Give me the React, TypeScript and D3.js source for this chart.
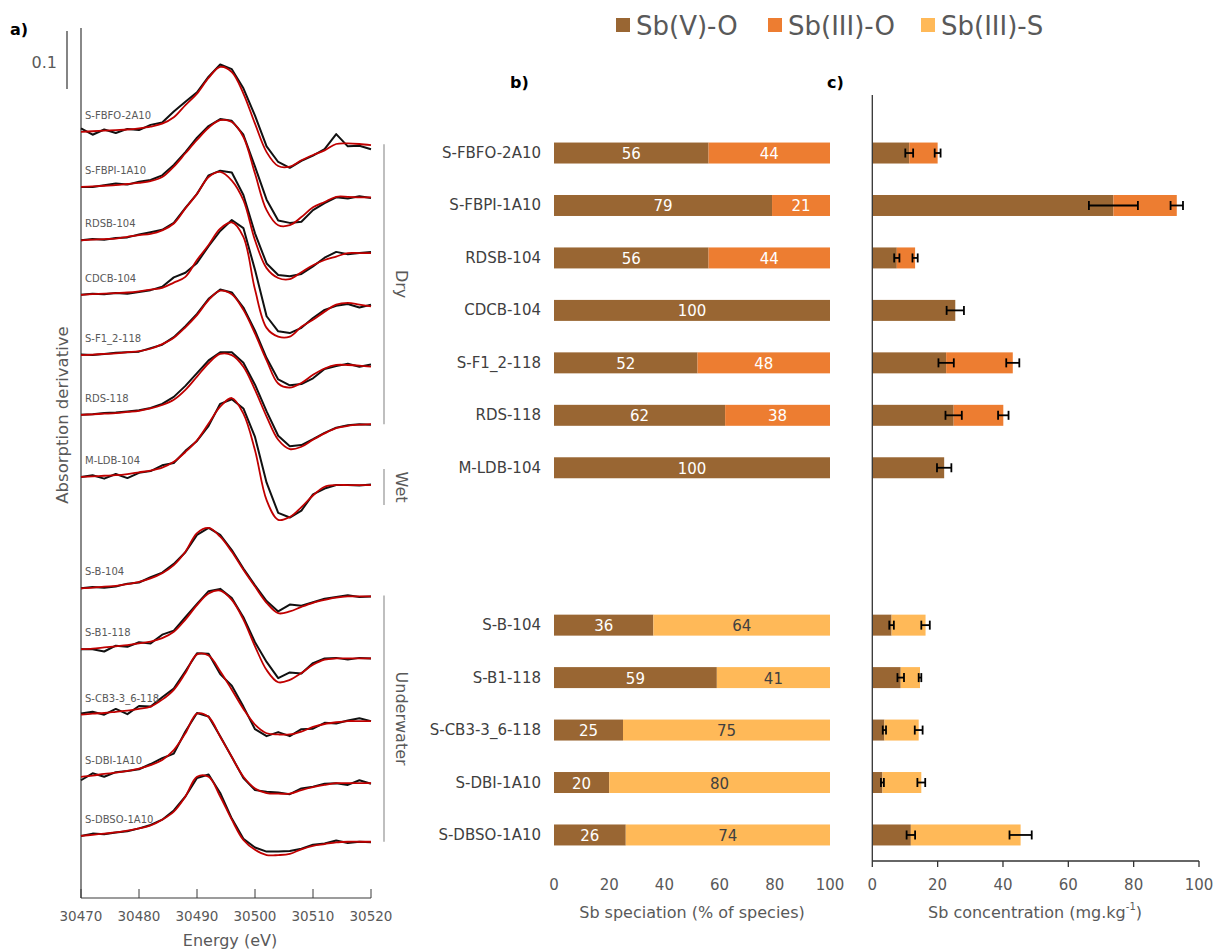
import React from "react";
import * as d3 from "d3";

// ---------- Panel a: XANES derivative spectra ----------
const energyGrid = [30470, 30472, 30474, 30476, 30478, 30480, 30482, 30484, 30486, 30488, 30490, 30492, 30494, 30496, 30498, 30500, 30502, 30504, 30506, 30508, 30510, 30512, 30514, 30516, 30518, 30520];
const energyTicks = [30470, 30480, 30490, 30500, 30510, 30520];

const spectrumNames = ["S-FBFO-2A10", "S-FBPI-1A10", "RDSB-104", "CDCB-104", "S-F1_2-118", "RDS-118", "M-LDB-104", "S-B-104", "S-B1-118", "S-CB3-3_6-118", "S-DBI-1A10", "S-DBSO-1A10"];
const spectrumOffsets = [1.321, 1.226, 1.134, 1.040, 0.936, 0.833, 0.726, 0.534, 0.429, 0.316, 0.209, 0.107];

// values in thousandths of derivative units, relative to each offset
const fitFBFO = [0, 1, 2, 3, 4, 6, 9, 14, 25, 46, 66, 93, 112, 103, 66, 14, -35, -59, -60, -49, -40, -32, -21, -20, -21, -23];
const expFBFO = [6, -5, 4, -2, 5, 3, 12, 16, 35, 52, 68, 95, 116, 108, 75, 28, -25, -52, -62, -50, -41, -30, -4, -25, -24, -30];
const fitFBPI = [0, 1, 2, 3, 5, 7, 10, 17, 35, 58, 81, 102, 115, 112, 86, 23, -40, -66, -66, -52, -35, -26, -17, -17, -18, -18];
const expFBPI = [0, 0, 3, 6, 4, 9, 12, 20, 38, 60, 85, 105, 117, 114, 90, 35, -22, -58, -62, -60, -40, -28, -18, -20, -16, -19];
const fitRDSB = [0, 1, 2, 3, 6, 9, 11, 17, 29, 55, 80, 109, 118, 103, 69, 0, -48, -65, -67, -55, -43, -34, -28, -22, -22, -22];
const expRDSB = [0, 2, 1, 4, 5, 10, 14, 18, 30, 56, 80, 112, 120, 117, 78, 12, -40, -60, -62, -58, -45, -30, -20, -24, -22, -20];
const fitCDCB = [0, 1, 2, 3, 4, 6, 9, 12, 21, 31, 60, 86, 114, 125, 100, 9, -57, -72, -72, -55, -43, -29, -17, -14, -17, -20];
const expCDCB = [0, 2, 1, 3, 2, 5, 8, 14, 30, 38, 55, 84, 110, 129, 115, 43, -37, -63, -66, -57, -40, -26, -19, -16, -22, -17];
const fitSF12 = [0, 1, 2, 3, 5, 7, 11, 19, 30, 48, 69, 95, 111, 105, 78, 37, -9, -49, -56, -48, -34, -23, -17, -17, -18, -20];
const expSF12 = [1, 0, 2, 4, 5, 6, 12, 18, 31, 50, 71, 97, 113, 108, 82, 42, -5, -42, -52, -50, -40, -24, -19, -15, -20, -16];
const fitRDS = [0, 1, 2, 3, 5, 7, 11, 17, 26, 43, 66, 89, 105, 103, 83, 43, -3, -43, -59, -55, -43, -32, -23, -19, -17, -16];
const expRDS = [0, 1, 3, 4, 6, 8, 12, 19, 31, 50, 72, 94, 108, 108, 90, 52, 6, -36, -54, -52, -42, -31, -22, -18, -16, -17];
const fitMLDB = [0, 1, 2, 3, 5, 8, 11, 16, 26, 43, 63, 92, 121, 136, 109, 46, -40, -74, -69, -52, -32, -17, -14, -14, -14, -14];
const expMLDB = [0, 3, -3, 5, -2, 7, 10, 20, 24, 45, 62, 88, 126, 134, 118, 69, -10, -62, -70, -58, -30, -20, -14, -14, -15, -13];
const fitSB = [0, 1, 3, 4, 7, 11, 17, 26, 40, 63, 95, 104, 89, 63, 32, 3, -25, -43, -40, -32, -25, -20, -16, -14, -14, -14];
const expSB = [0, 2, 1, 3, 8, 10, 19, 27, 42, 62, 92, 104, 92, 66, 34, 5, -22, -40, -28, -30, -24, -18, -15, -12, -15, -14];
const fitSB1 = [0, 1, 3, 5, 7, 10, 13, 19, 30, 51, 76, 96, 101, 85, 51, 5, -36, -57, -53, -41, -27, -18, -16, -16, -16, -16];
const expSB1 = [0, 0, -4, 6, 4, 12, 10, 25, 32, 55, 78, 100, 104, 88, 55, 12, -22, -50, -40, -42, -24, -16, -15, -18, -15, -16];
const fitCB3 = [0, 2, 3, 5, 7, 10, 14, 26, 43, 72, 104, 102, 75, 43, 10, -17, -32, -34, -34, -29, -21, -16, -13, -11, -11, -11];
const expCB3 = [2, 5, 0, 10, 1, 15, 14, 30, 45, 75, 106, 105, 70, 50, 14, -25, -37, -30, -37, -25, -24, -14, -15, -10, -6, -11];
const fitDBI = [0, 2, 5, 7, 10, 14, 20, 29, 46, 75, 109, 103, 69, 34, 0, -20, -28, -29, -29, -23, -18, -14, -11, -11, -11, -11];
const expDBI = [-6, 6, 0, 8, 10, 13, 22, 32, 40, 78, 110, 104, 70, 34, -2, -23, -26, -27, -30, -20, -17, -12, -11, -14, -6, -12];
const fitDBSO = [0, 2, 4, 6, 9, 13, 18, 28, 42, 68, 102, 102, 68, 28, -7, -24, -33, -33, -31, -23, -17, -14, -11, -10, -10, -10];
const expDBSO = [0, 4, 3, 6, 8, 13, 19, 28, 44, 68, 100, 106, 74, 30, -5, -20, -27, -27, -26, -22, -15, -13, -8, -12, -10, -11];

const fitSeries = [fitFBFO, fitFBPI, fitRDSB, fitCDCB, fitSF12, fitRDS, fitMLDB, fitSB, fitSB1, fitCB3, fitDBI, fitDBSO];
const expSeries = [expFBFO, expFBPI, expRDSB, expCDCB, expSF12, expRDS, expMLDB, expSB, expSB1, expCB3, expDBI, expDBSO];

const groupNames = ["Dry", "Wet", "Underwater"];
const groupFirst = [0, 6, 7];
const groupLast = [5, 6, 11];

const scaleBarValue = 0.1;
const scaleBarTop = 1.495;

// ---------- Panels b & c ----------
const samplesDry = ["S-FBFO-2A10", "S-FBPI-1A10", "RDSB-104", "CDCB-104", "S-F1_2-118", "RDS-118", "M-LDB-104"];
const samplesUnder = ["S-B-104", "S-B1-118", "S-CB3-3_6-118", "S-DBI-1A10", "S-DBSO-1A10"];
const samples = [...samplesDry, ...samplesUnder];

const pctSbVO = [56, 79, 56, 100, 52, 62, 100, 36, 59, 25, 20, 26];
const pctSbIIIO = [44, 21, 44, 0, 48, 38, 0, 0, 0, 0, 0, 0];
const pctSbIIIS = [0, 0, 0, 0, 0, 0, 0, 64, 41, 75, 80, 74];

const concSbV = [11.3, 73.8, 7.5, 25.4, 22.6, 24.9, 22.0, 5.9, 8.7, 3.7, 3.1, 11.8];
const concTotal = [20.0, 93.2, 13.1, 25.4, 43.0, 40.1, 22.0, 16.3, 14.6, 14.2, 15.0, 45.4];
const errSbV = [1.2, 7.5, 0.8, 0, 2.35, 2.5, 0, 0.7, 1.0, 0.5, 0.45, 1.3];
const errTotal = [0.9, 1.9, 0.8, 2.65, 2.0, 1.6, 2.2, 1.3, 0.4, 1.2, 1.2, 3.4];

const valueTicks = [0, 20, 40, 60, 80, 100];

const speciesKeys = ["Sb(V)-O", "Sb(III)-O", "Sb(III)-S"];
const speciesColors = ["#996633", "#ed7d31", "#ffb958"];
const speciesLabelColors = ["#ffffff", "#ffffff", "#404040"];

const FONT = "'DejaVu Sans', Verdana, sans-serif";
const GRAY = "#595959";

export default function App() {
  // Panel a scales
  const xE = d3.scaleLinear().domain([30470, 30520]).range([81, 371]);
  const yA = d3.scaleLinear().domain([0, 1.5]).range([898, 28]);
  const fitLine = d3
    .line<number>()
    .x((_, i) => xE(energyGrid[i]))
    .curve(d3.curveCatmullRom.alpha(0.5));
  const expLine = d3.line<number>().x((_, i) => xE(energyGrid[i]));

  // Panels b/c scales
  const rows = [...samplesDry, "__gap1", "__gap2", ...samplesUnder];
  const yB = d3.scaleBand<string>().domain(rows).range([126.8, 861.2]).paddingInner(0.6).paddingOuter(0.3);
  const xB = d3.scaleLinear().domain([0, 100]).range([554, 830]);
  const xC = d3.scaleLinear().domain([0, 100]).range([872.3, 1199]);

  const pctTable = samples.map((s, i) => ({ sample: s, "Sb(V)-O": pctSbVO[i], "Sb(III)-O": pctSbIIIO[i], "Sb(III)-S": pctSbIIIS[i] }));
  const concTable = samples.map((s, i) => ({
    sample: s,
    "Sb(V)-O": concSbV[i],
    "Sb(III)-O": pctSbIIIO[i] > 0 ? concTotal[i] - concSbV[i] : 0,
    "Sb(III)-S": pctSbIIIS[i] > 0 ? concTotal[i] - concSbV[i] : 0,
  }));
  const stack = d3.stack<any>().keys(speciesKeys);
  const pctStack = stack(pctTable);
  const concStack = stack(concTable);
  const bw = yB.bandwidth();

  const groupLine = (g: number) => {
    const f = groupFirst[g];
    const l = groupLast[g];
    const endF = yA(spectrumOffsets[f] + fitSeries[f][fitSeries[f].length - 1] / 1000);
    const endL = yA(spectrumOffsets[l] + fitSeries[l][fitSeries[l].length - 1] / 1000);
    if (f === l) return [endF - 16, endF + 20];
    return [endF - 1, endL];
  };

  return (
    <svg width={1216} height={951} style={{ position: "absolute", left: 0, top: 0, background: "#fff" }} fontFamily={FONT}>
      <rect x={0} y={0} width={1216} height={951} fill="#fff" />
      {/* Panel labels */}
      <text x={10} y={35} fontSize={16} fontWeight="bold" fill="#000">a)</text>
      <text x={510} y={88} fontSize={16} fontWeight="bold" fill="#000">b)</text>
      <text x={827} y={88} fontSize={16} fontWeight="bold" fill="#000">c)</text>

      {/* Legend */}
      {speciesKeys.map((k, i) => {
        const lx = [616, 768, 921][i];
        return (
          <g key={k}>
            <rect x={lx} y={18} width={14} height={14} fill={speciesColors[i]} />
            <text x={lx + 20} y={26} fontSize={26} fill={GRAY} dominantBaseline="central">{k}</text>
          </g>
        );
      })}

      {/* ---------- Panel a ---------- */}
      <line x1={67} x2={67} y1={yA(scaleBarTop)} y2={yA(scaleBarTop - scaleBarValue)} stroke="#333" strokeWidth={1.2} />
      <text x={57} y={62} fontSize={16} fill={GRAY} textAnchor="end" dominantBaseline="central">{scaleBarValue}</text>
      <line x1={xE(30470)} x2={xE(30470)} y1={yA(1.5)} y2={yA(0)} stroke="#3a3a3a" strokeWidth={1.2} />
      <line x1={xE(30470)} x2={xE(30520)} y1={yA(0)} y2={yA(0)} stroke="#3a3a3a" strokeWidth={1.2} />
      {energyTicks.map((t) => (
        <g key={t}>
          <line x1={xE(t)} x2={xE(t)} y1={yA(0)} y2={yA(0) - 9} stroke="#3a3a3a" strokeWidth={1} />
          <text x={xE(t)} y={916} fontSize={13.5} fill={GRAY} textAnchor="middle" dominantBaseline="central">{t}</text>
        </g>
      ))}
      <text x={xE(30490) + 33} y={940} fontSize={16} fill={GRAY} textAnchor="middle" dominantBaseline="central">Energy (eV)</text>
      <text transform={`translate(62,415) rotate(-90)`} fontSize={16.5} fill={GRAY} textAnchor="middle" dominantBaseline="central">Absorption derivative</text>

      {spectrumNames.map((name, i) => {
        const off = spectrumOffsets[i];
        const fl = fitLine.y((v) => yA(off + v / 1000));
        const el = expLine.y((v) => yA(off + v / 1000));
        return (
          <g key={name}>
            <path d={el(expSeries[i]) || ""} fill="none" stroke="#111" strokeWidth={2} strokeLinejoin="round" />
            <path d={fl(fitSeries[i]) || ""} fill="none" stroke="#c00000" strokeWidth={1.8} strokeLinejoin="round" />
            <text x={85} y={yA(off) - 13} fontSize={10} fill={GRAY}>{name}</text>
          </g>
        );
      })}

      {groupNames.map((g, gi) => {
        const [a, b] = groupLine(gi);
        return (
          <g key={g}>
            <line x1={384} x2={384} y1={a} y2={b} stroke="#bfbfbf" strokeWidth={2} />
            <text transform={`translate(401,${(a + b) / 2}) rotate(90)`} fontSize={16} fill={GRAY} textAnchor="middle" dominantBaseline="central">{g}</text>
          </g>
        );
      })}

      {/* ---------- Panel b ---------- */}
      {pctStack.map((layer, li) => (
        <g key={layer.key}>
          {layer.map((d, i) => {
            const w = xB(d[1]) - xB(d[0]);
            if (w <= 0) return null;
            const y = yB(samples[i])!;
            return (
              <g key={i}>
                <rect x={xB(d[0])} y={y} width={w} height={bw} fill={speciesColors[li]} />
                <text x={(xB(d[0]) + xB(d[1])) / 2} y={y + bw / 2 + 1} fontSize={15} fill={speciesLabelColors[li]} textAnchor="middle" dominantBaseline="central">
                  {d[1] - d[0]}
                </text>
              </g>
            );
          })}
        </g>
      ))}
      {samples.map((s) => (
        <text key={s} x={541} y={yB(s)! + bw / 2} fontSize={15} fill="#404040" textAnchor="end" dominantBaseline="central">{s}</text>
      ))}
      {valueTicks.map((t) => (
        <text key={t} x={xB(t)} y={885} fontSize={15} fill={GRAY} textAnchor="middle" dominantBaseline="central">{t}</text>
      ))}
      <text x={(xB(0) + xB(100)) / 2} y={912} fontSize={16} fill={GRAY} textAnchor="middle" dominantBaseline="central">Sb speciation (% of species)</text>

      {/* ---------- Panel c ---------- */}
      {concStack.map((layer, li) => (
        <g key={layer.key}>
          {layer.map((d, i) => {
            const w = xC(d[1]) - xC(d[0]);
            if (w <= 0) return null;
            return <rect key={i} x={xC(d[0])} y={yB(samples[i])!} width={w} height={bw} fill={speciesColors[li]} />;
          })}
        </g>
      ))}
      {samples.map((s, i) => {
        const cy = yB(s)! + bw / 2;
        const bars: [number, number][] = [];
        if (errSbV[i] > 0 && concSbV[i] < concTotal[i]) bars.push([concSbV[i], errSbV[i]]);
        bars.push([concTotal[i], errTotal[i]]);
        return (
          <g key={s} stroke="#000" strokeWidth={1.8}>
            {bars.map(([v, e], k) => (
              <g key={k}>
                <line x1={xC(v - e)} x2={xC(v + e)} y1={cy} y2={cy} />
                <line x1={xC(v - e)} x2={xC(v - e)} y1={cy - 4.5} y2={cy + 4.5} />
                <line x1={xC(v + e)} x2={xC(v + e)} y1={cy - 4.5} y2={cy + 4.5} />
              </g>
            ))}
          </g>
        );
      })}
      <line x1={xC(0)} x2={xC(0)} y1={95} y2={861} stroke="#333" strokeWidth={1.3} />
      <line x1={xC(0)} x2={xC(100)} y1={861} y2={861} stroke="#333" strokeWidth={1.3} />
      {valueTicks.map((t) => (
        <g key={t}>
          <line x1={xC(t)} x2={xC(t)} y1={861} y2={867} stroke="#333" strokeWidth={1.3} />
          <text x={xC(t)} y={885} fontSize={15} fill={GRAY} textAnchor="middle" dominantBaseline="central">{t}</text>
        </g>
      ))}
      <text x={1035} y={912} fontSize={16} fill={GRAY} textAnchor="middle" dominantBaseline="central">
        Sb concentration (mg.kg<tspan fontSize={10} dy={-6}>-1</tspan><tspan dy={6}>)</tspan>
      </text>
    </svg>
  );
}
